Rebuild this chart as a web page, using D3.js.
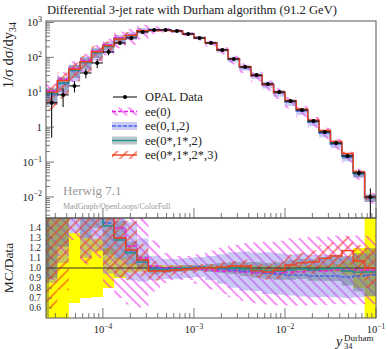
<!DOCTYPE html>
<html>
<head>
<meta charset="utf-8">
<script src="https://cdn.jsdelivr.net/npm/d3@7"></script>
<style>
body { margin: 0; background: #fff; }
text { font-family: "Liberation Serif", "DejaVu Serif", serif; }
</style>
</head>
<body>
<div id="chart"></div>
<script>
// bin edges of y34 (Durham)
const binEdges = [2.37e-5, 3.16e-5, 4.22e-5, 5.62e-5, 7.50e-5, 1.00e-4, 1.33e-4, 1.78e-4, 2.37e-4, 3.16e-4,
    4.22e-4, 5.62e-4, 7.50e-4, 1.00e-3, 1.33e-3, 1.78e-3, 2.37e-3, 3.16e-3, 4.22e-3, 5.62e-3,
    7.50e-3, 1.00e-2, 1.33e-2, 1.78e-2, 2.37e-2, 3.16e-2, 4.22e-2, 5.62e-2, 7.50e-2, 1.00e-1];

// OPAL data and relative errors
const dataVals = [5.0, 8.4, 15.2, 35.7, 69, 143, 259, 360, 535, 610,
    610, 570, 468, 360, 259, 163, 90, 53, 31, 17.3,
    10.2, 5.6, 3.1, 1.5, 0.73, 0.35, 0.15, 0.049, 0.010];
const dataErr = [0.9, 0.55, 0.35, 0.3, 0.29, 0.2, 0.1, 0.045, 0.035, 0.03,
    0.025, 0.025, 0.025, 0.02, 0.02, 0.02, 0.02, 0.02, 0.02, 0.02,
    0.02, 0.025, 0.025, 0.03, 0.03, 0.04, 0.07, 0.2, 0.75];

// MC predictions
const mcNames = ["ee(0)", "ee(0,1,2)", "ee(0*,1*,2)", "ee(0*,1*,2*,3)"];
const mc0 = [11, 23.5, 48.6, 82.1, 151.8, 228.8, 362.6, 439.2, 588.5, 622.2,
    610, 570, 468, 356.4, 253.8, 158.1, 87.3, 50.9, 29.5, 16.4,
    9.69, 5.38, 2.98, 1.46, 0.708, 0.343, 0.147, 0.048, 0.0098];
const mc1 = [8.5, 17.6, 41.0, 71.4, 134.6, 207.4, 336.7, 421.2, 577.8, 610,
    603.9, 564.3, 468, 363.6, 259, 161.4, 88.2, 51.4, 29.8, 16.4,
    9.59, 5.21, 2.88, 1.38, 0.672, 0.322, 0.1365, 0.0451, 0.0093];
const mc2 = [9.0, 18.5, 42.6, 71.4, 138, 203, 331.5, 414, 567, 597.8,
    597.8, 564.3, 468, 360, 259, 163, 90, 52.5, 30.4, 16.8,
    9.89, 5.49, 3.07, 1.47, 0.723, 0.35, 0.1455, 0.047, 0.0096];
const mc3 = [10, 21.8, 45.6, 75, 145, 214.5, 336.7, 424.8, 577.8, 591.7,
    591.7, 558.6, 463.3, 360, 259, 164.6, 91.8, 54.1, 30.1, 16.6,
    10.0, 5.77, 3.26, 1.59, 0.80, 0.392, 0.176, 0.0524, 0.010];

// MC relative uncertainties
const err0 = [0.6, 0.6, 0.6, 0.55, 0.5, 0.5, 0.5, 0.48, 0.45, 0.25,
    0.15, 0.12, 0.12, 0.15, 0.2, 0.24, 0.27, 0.3, 0.32, 0.33,
    0.34, 0.35, 0.35, 0.35, 0.35, 0.35, 0.35, 0.35, 0.35];
const err1 = [0.5, 0.5, 0.5, 0.45, 0.4, 0.35, 0.3, 0.25, 0.2, 0.12,
    0.1, 0.1, 0.1, 0.1, 0.12, 0.15, 0.18, 0.2, 0.2, 0.22,
    0.22, 0.22, 0.23, 0.23, 0.23, 0.23, 0.23, 0.23, 0.23];
const err2 = [0.5, 0.45, 0.4, 0.35, 0.3, 0.2, 0.15, 0.1, 0.06, 0.04,
    0.03, 0.03, 0.03, 0.03, 0.04, 0.05, 0.06, 0.07, 0.08, 0.08,
    0.09, 0.1, 0.1, 0.11, 0.12, 0.13, 0.15, 0.2, 0.25];
const err3 = [0.7, 0.7, 0.55, 0.5, 0.45, 0.35, 0.3, 0.25, 0.15, 0.1,
    0.06, 0.05, 0.04, 0.04, 0.04, 0.05, 0.05, 0.06, 0.07, 0.08,
    0.09, 0.1, 0.1, 0.11, 0.12, 0.12, 0.12, 0.15, 0.2];

// ticks
const mainDecades = [1e-2, 1e-1, 1, 10, 100, 1000];
const mainTickLabels = [["10", "\u22122"], ["10", "\u22121"], ["1", ""], ["10", "1"], ["10", "2"], ["10", "3"]];
const xDecades = [1e-4, 1e-3, 1e-2, 1e-1];
const xTickLabels = ["\u22124", "\u22123", "\u22122", "\u22121"];
const ratioTicks = [0.6, 0.7, 0.8, 0.9, 1.0, 1.1, 1.2, 1.3, 1.4];

const W = 388, H = 349;
const L = 46, R = 376, T = 21, MID = 218, B = 318;

const svg = d3.select("#chart").append("svg")
    .attr("width", W).attr("height", H);

const x = d3.scaleLog().domain([binEdges[0], binEdges[binEdges.length - 1]]).range([L, R]);
const y = d3.scaleLog().domain([2.5e-3, 1.1e3]).range([MID, T]);
const yr = d3.scaleLinear().domain([0.5, 1.5]).range([B, MID]);

const defs = svg.append("defs");
function hatch(id, color, angle, sw) {
    let p = defs.append("pattern").attr("id", id)
        .attr("patternUnits", "userSpaceOnUse")
        .attr("width", 7).attr("height", 7)
        .attr("patternTransform", `rotate(${angle})`);
    p.append("line").attr("x1", 1).attr("y1", 0).attr("x2", 1).attr("y2", 7)
        .attr("stroke", color).attr("stroke-width", sw);
}
hatch("hMag", "#f020f0", -45, 1);
hatch("hRed", "#f43a1c", 45, 1.1);

defs.append("clipPath").attr("id", "clipMain")
    .append("rect").attr("x", L).attr("y", T).attr("width", R - L).attr("height", MID - T);
defs.append("clipPath").attr("id", "clipRatio")
    .append("rect").attr("x", L).attr("y", MID).attr("width", R - L).attr("height", B - MID);

const series = [
    {name: mcNames[0], vals: mc0, err: err0, line: "#e81ee8", dash: "4,2", band: "url(#hMag)", op: 1},
    {name: mcNames[1], vals: mc1, err: err1, line: "#4466e6", dash: "4,1.5", band: "#7a7ae6", op: 0.4},
    {name: mcNames[2], vals: mc2, err: err2, line: "#22908e", dash: null, band: "#5a7580", op: 0.42},
    {name: mcNames[3], vals: mc3, err: err3, line: "#f0401e", dash: null, band: "url(#hRed)", op: 1}
];

// step points: two per bin (left and right edge)
function stepPts() {
    let pts = [];
    for (let i = 0; i < binEdges.length - 1; i++) {
        pts.push({x: x(binEdges[i]), i: i});
        pts.push({x: x(binEdges[i + 1]), i: i});
    }
    return pts;
}
const pts = stepPts();

// ---------- main panel ----------
const gMain = svg.append("g").attr("clip-path", "url(#clipMain)");

series.forEach(s => {
    gMain.append("path")
        .attr("d", d3.area().x(d => d.x)
            .y0(d => y(s.vals[d.i] * (1 - s.err[d.i])))
            .y1(d => y(s.vals[d.i] * (1 + s.err[d.i])))(pts))
        .attr("fill", s.band).attr("fill-opacity", s.op);
});
series.forEach(s => {
    gMain.append("path")
        .attr("d", d3.line().x(d => d.x).y(d => y(s.vals[d.i]))(pts))
        .attr("fill", "none").attr("stroke", s.line).attr("stroke-width", 1.4)
        .attr("stroke-dasharray", s.dash);
});

// data points
const dataG = gMain.append("g");
dataVals.forEach((v, i) => {
    let xc = x(Math.sqrt(binEdges[i] * binEdges[i + 1]));
    dataG.append("line").attr("x1", x(binEdges[i])).attr("x2", x(binEdges[i + 1]))
        .attr("y1", y(v)).attr("y2", y(v)).attr("stroke", "#000").attr("stroke-width", 1);
    dataG.append("line").attr("x1", xc).attr("x2", xc)
        .attr("y1", y(v * (1 - dataErr[i]))).attr("y2", y(v * (1 + dataErr[i])))
        .attr("stroke", "#000").attr("stroke-width", 1);
    dataG.append("circle").attr("cx", xc).attr("cy", y(v)).attr("r", 2).attr("fill", "#000");
});

// ---------- ratio panel ----------
const gRatio = svg.append("g").attr("clip-path", "url(#clipRatio)");

gRatio.append("path")
    .attr("d", d3.area().x(d => d.x)
        .y0(d => yr(1 - dataErr[d.i]))
        .y1(d => yr(1 + dataErr[d.i]))(pts))
    .attr("fill", "#ffff00");

series.forEach(s => {
    gRatio.append("path")
        .attr("d", d3.area().x(d => d.x)
            .y0(d => yr(s.vals[d.i] * (1 - s.err[d.i]) / dataVals[d.i]))
            .y1(d => yr(s.vals[d.i] * (1 + s.err[d.i]) / dataVals[d.i]))(pts))
        .attr("fill", s.band).attr("fill-opacity", s.op);
});
gRatio.append("path")
    .attr("d", d3.line().x(d => d.x).y(d => yr(1))(pts))
    .attr("fill", "none").attr("stroke", "#333").attr("stroke-width", 1);
series.forEach(s => {
    gRatio.append("path")
        .attr("d", d3.line().x(d => d.x).y(d => yr(s.vals[d.i] / dataVals[d.i]))(pts))
        .attr("fill", "none").attr("stroke", s.line).attr("stroke-width", 1.4)
        .attr("stroke-dasharray", s.dash);
});

// ---------- frames and ticks ----------
const frameCol = "#555";
svg.append("rect").attr("x", L).attr("y", T).attr("width", R - L).attr("height", MID - T)
    .attr("fill", "none").attr("stroke", frameCol).attr("stroke-width", 1);
svg.append("rect").attr("x", L).attr("y", MID).attr("width", R - L).attr("height", B - MID)
    .attr("fill", "none").attr("stroke", frameCol).attr("stroke-width", 1);

const ticks = svg.append("g").attr("stroke", frameCol).attr("stroke-width", 0.8);

// main y ticks
y.ticks(20).forEach(t => {
    let major = mainDecades.includes(t);
    let yy = y(t);
    if (yy < T || yy > MID) return;
    ticks.append("line").attr("x1", L).attr("x2", L + (major ? 8 : 4)).attr("y1", yy).attr("y2", yy);
});
mainDecades.forEach((t, k) => {
    let lab = svg.append("text").attr("x", 42).attr("y", y(t) + 4)
        .attr("text-anchor", "end").attr("font-size", 11).attr("fill", "#222");
    lab.append("tspan").text(mainTickLabels[k][0]);
    if (mainTickLabels[k][1]) lab.append("tspan").attr("dy", -4.5).attr("font-size", 8).text(mainTickLabels[k][1]);
});

// x ticks, both panels
x.ticks(30).forEach(t => {
    let major = xDecades.some(d => Math.abs(d - t) / d < 1e-6);
    let xx = x(t);
    if (xx < L || xx > R) return;
    let len = major ? 10 : 5;
    ticks.append("line").attr("x1", xx).attr("x2", xx).attr("y1", MID).attr("y2", MID - len);
    ticks.append("line").attr("x1", xx).attr("x2", xx).attr("y1", B).attr("y2", B - len);
});
xDecades.forEach((t, k) => {
    let lab = svg.append("text").attr("x", x(t)).attr("y", 332.5)
        .attr("text-anchor", "middle").attr("font-size", 10.5).attr("fill", "#222");
    lab.append("tspan").text("10");
    lab.append("tspan").attr("dy", -4).attr("font-size", 7.5).text(xTickLabels[k]);
});

// ratio y ticks
d3.range(26, 75).forEach(k => {
    let v = k / 50;
    let yy = yr(v);
    if (yy < MID || yy > B) return;
    let major = k % 5 === 0;
    ticks.append("line").attr("x1", L).attr("x2", L + (major ? 6 : 3)).attr("y1", yy).attr("y2", yy);
});
ratioTicks.forEach(t => {
    svg.append("text").attr("x", 41).attr("y", yr(t) + 3.3)
        .attr("text-anchor", "end").attr("font-size", 9.5).attr("fill", "#222")
        .text(t.toFixed(1));
});

// ---------- labels ----------
svg.append("text").attr("x", 192).attr("y", 14)
    .attr("text-anchor", "middle").attr("font-size", 13).attr("fill", "#222")
    .attr("textLength", 290).attr("lengthAdjust", "spacingAndGlyphs")
    .text("Differential 3-jet rate with Durham algorithm (91.2 GeV)");

const yl = svg.append("text").attr("transform", "translate(13,22) rotate(-90)")
    .attr("text-anchor", "end").attr("font-size", 14.5).attr("fill", "#222");
yl.append("tspan").text("1/\u03c3 d\u03c3/dy");
yl.append("tspan").attr("dy", 3).attr("font-size", 10).text("34");

svg.append("text").attr("transform", "translate(13,268) rotate(-90)")
    .attr("text-anchor", "middle").attr("font-size", 13.5).attr("fill", "#222")
    .text("MC/Data");

svg.append("text").attr("x", 336).attr("y", 345.5).attr("font-size", 14)
    .attr("font-style", "italic").attr("fill", "#222").text("y");
svg.append("text").attr("x", 344).attr("y", 348.5).attr("font-size", 8.5)
    .attr("fill", "#222").text("34");
svg.append("text").attr("x", 344).attr("y", 341).attr("font-size", 9)
    .attr("fill", "#222").text("Durham");

svg.append("text").attr("x", 63).attr("y", 195).attr("font-size", 13)
    .attr("fill", "#999").text("Herwig 7.1");
svg.append("text").attr("x", 63).attr("y", 209).attr("font-size", 8)
    .attr("fill", "#999").text("MadGraph/OpenLoops/ColorFull");

// ---------- legend ----------
const legY = [97, 111.5, 126, 140.5, 155];
const lg = svg.append("g");
lg.append("line").attr("x1", 113).attr("x2", 137).attr("y1", legY[0]).attr("y2", legY[0])
    .attr("stroke", "#000").attr("stroke-width", 1);
lg.append("circle").attr("cx", 125).attr("cy", legY[0]).attr("r", 2).attr("fill", "#000");
lg.append("text").attr("x", 145).attr("y", legY[0] + 4).attr("font-size", 12.5)
    .attr("fill", "#222").text("OPAL Data");
series.forEach((s, k) => {
    let yy = legY[k + 1];
    lg.append("rect").attr("x", 112).attr("y", yy - 4).attr("width", 25).attr("height", 8)
        .attr("fill", s.band).attr("fill-opacity", s.op);
    lg.append("line").attr("x1", 112).attr("x2", 137).attr("y1", yy).attr("y2", yy)
        .attr("stroke", s.line).attr("stroke-width", 1.4).attr("stroke-dasharray", s.dash);
    lg.append("text").attr("x", 145).attr("y", yy + 4).attr("font-size", 12.5)
        .attr("fill", "#222").text(s.name);
});
</script>
</body>
</html>
